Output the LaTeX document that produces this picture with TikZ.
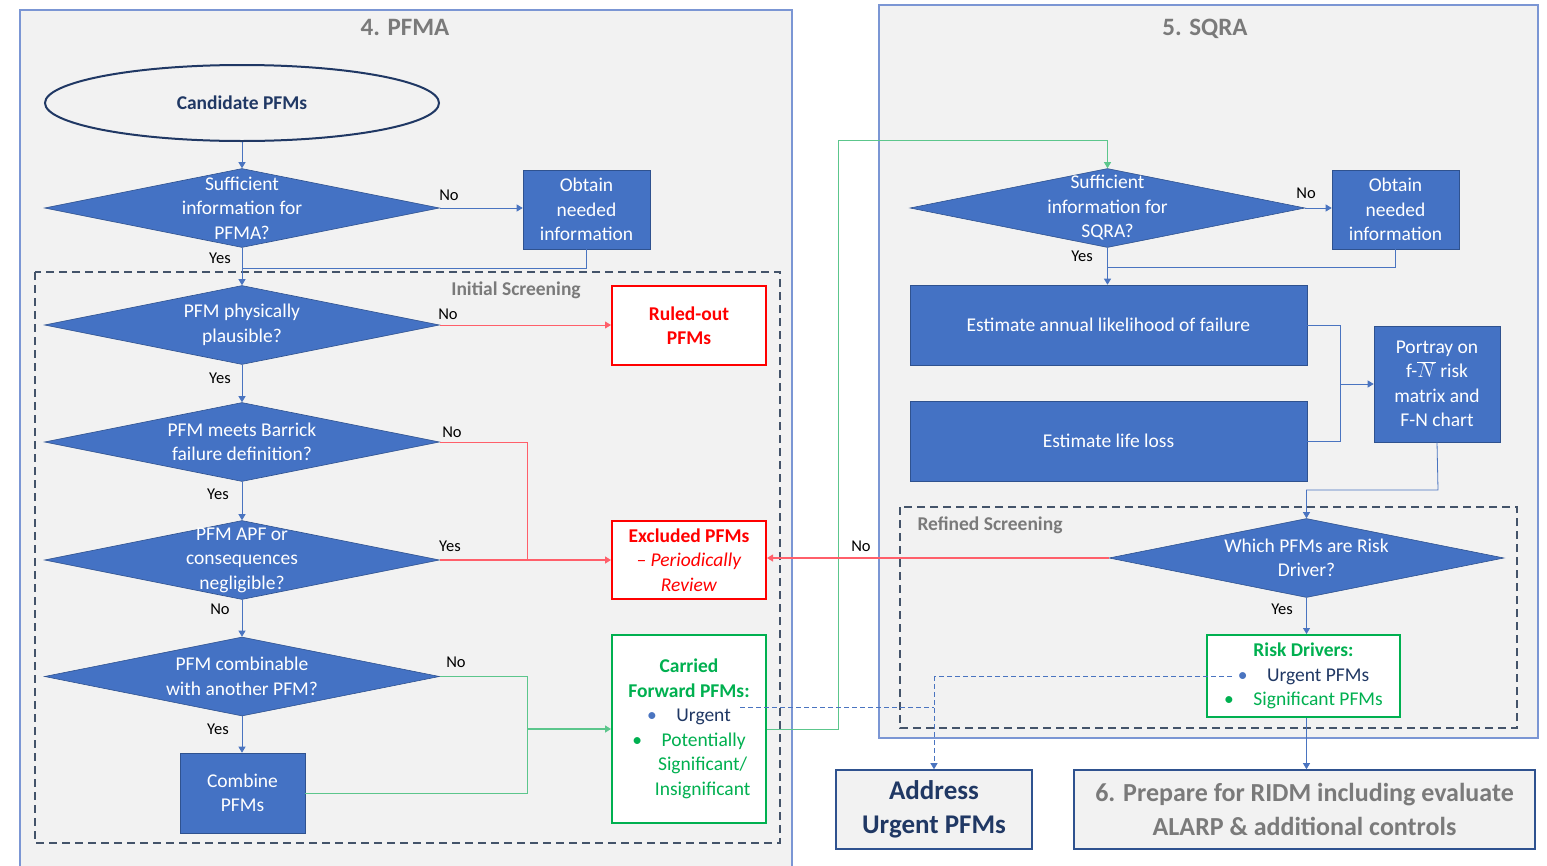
\documentclass[tikz,border=0pt]{standalone}
\usepackage{fontspec}
\setmainfont{Carlito}
\usetikzlibrary{shapes.geometric,arrows.meta}
\definecolor{bfill}{HTML}{4472C4}
\definecolor{bdark}{HTML}{2F528F}
\definecolor{navy}{HTML}{203864}
\definecolor{outerb}{HTML}{7B96D4}
\definecolor{dashb}{HTML}{44546A}
\definecolor{bg}{HTML}{F2F2F2}
\definecolor{gtitle}{HTML}{7A7A7A}
\definecolor{rred}{HTML}{FF0000}
\definecolor{rline}{HTML}{FF5F6A}
\definecolor{ggreen}{HTML}{00B050}
\definecolor{gline}{HTML}{5CC68C}
\definecolor{cline}{HTML}{4A74C0}
\tikzset{
  dia/.style={diamond, draw=bdark, fill=bfill, line width=0.6pt, inner sep=0pt, minimum width=395pt, minimum height=79pt},
  dtext/.style={align=center, text=white, font=\fontsize{19.5}{24.5}\selectfont},
  bbox/.style={rectangle, draw=bdark, fill=bfill, line width=0.6pt, align=center, text=white, inner sep=2pt, font=\fontsize{19.5}{24.5}\selectfont},
  redbox/.style={rectangle, draw=rred, fill=white, line width=2pt, align=center, text=rred, inner sep=2pt, font=\fontsize{19.5}{24.5}\selectfont},
  grnbox/.style={rectangle, draw=ggreen, fill=white, line width=2pt, align=center, text=ggreen, inner sep=2pt, font=\fontsize{19.5}{24.5}\selectfont},
  graybox/.style={rectangle, draw=bdark, fill=bg, line width=1.6pt, align=center, inner sep=2pt, font=\bfseries\fontsize{27}{34}\selectfont},
  outerbox/.style={draw=outerb, fill=bg, line width=1.6pt},
  dashbox/.style={draw=dashb, line width=1.6pt, dash pattern=on 8pt off 5pt},
  titletext/.style={text=gtitle, font=\bfseries\fontsize{25}{28}\selectfont},
  screentext/.style={text=gtitle, font=\bfseries\fontsize{19.5}{22}\selectfont},
  lab/.style={text=black, font=\fontsize{16.5}{18}\selectfont, inner sep=1pt},
  arr/.style={-{Triangle[width=7pt,length=6pt]}},
  conn/.style={draw=cline, line width=0.8pt},
  rconn/.style={draw=rline, line width=0.9pt},
  gconn/.style={draw=gline, line width=0.9pt},
  dconn/.style={draw=cline, line width=0.8pt, dash pattern=on 5pt off 3pt},
}
\begin{document}
\begin{tikzpicture}[x=1pt,y=-1pt]
\useasboundingbox (0,0) rectangle (1547,865);
\fill[white] (0,0) rectangle (1547,865);
% outer containers
\draw[outerbox] (20,10) rectangle (792,880);
\draw[outerbox] (879,5) rectangle (1538,738);
\node[titletext] (t4) at (405,27) {4. PFMA};
\node[titletext] (t5) at (1205,29) {5. SQRA};
% screening boxes
\draw[dashbox] (35,272) rectangle (780,843);
\node[screentext] (is) at (516,290) {Initial Screening};
\draw[dashbox] (900,507) rectangle (1517,728);
\node[screentext] (rs) at (990,525) {Refined Screening};

% ---------- PFMA ----------
\node[ellipse, draw=navy, fill=bg, line width=2pt, minimum width=394pt, minimum height=76pt, text=navy, font=\bfseries\fontsize{19.5}{22}\selectfont] (cand) at (242,103) {Candidate PFMs};
\node[dia] (d1) at (242,208) {};
\node[dtext] at (d1) {Sufficient\\information for\\PFMA?};
\node[bbox, minimum width=127pt, minimum height=79pt] (ob1) at (586.5,209.5) {Obtain\\needed\\information};
\node[dia] (d2) at (242,325) {};
\node[dtext] at (d2) {PFM physically\\plausible?};
\node[redbox, minimum width=154pt, minimum height=79pt, font=\bfseries\fontsize{19.5}{24.5}\selectfont] (ruled) at (689,325.5) {Ruled-out\\PFMs};
\node[dia] (d3) at (242,442) {};
\node[dtext] at (d3) {PFM meets Barrick\\failure definition?};
\node[dia] (d4) at (242,560) {};
\node[dtext] at (d4) {PFM APF or\\consequences\\negligible?};
\node[redbox, minimum width=154pt, minimum height=78pt] (excl) at (689,560) {\textbf{Excluded PFMs}\\\textit{-- Periodically}\\\textit{Review}};
\node[dia] (d5) at (242,676.5) {};
\node[dtext] at (d5) {PFM combinable\\with another PFM?};
\node[bbox, minimum width=125pt, minimum height=80pt] (comb) at (242.5,793) {Combine\\PFMs};
\node[grnbox, minimum width=154pt, minimum height=188pt] (carr) at (689,729) {\textbf{Carried}\\\textbf{Forward PFMs:}\\{\color{cline}\textbullet}\quad{\color{navy}Urgent}\\\textbullet\quad Potentially\\\hspace{1.4em}Significant/\\\hspace{1.4em}Insignificant};

% ---------- SQRA ----------
\node[dia] (s1) at (1107.5,208) {};
\node[dtext] at (s1) {Sufficient\\information for\\SQRA?};
\node[bbox, minimum width=127pt, minimum height=79pt] (ob2) at (1395.5,209.5) {Obtain\\needed\\information};
\node[bbox, minimum width=397pt, minimum height=80pt] (ann) at (1108.5,325) {Estimate annual likelihood of failure};
\node[bbox, minimum width=397pt, minimum height=80pt] (life) at (1108.5,441) {Estimate life loss};
\node[bbox, minimum width=126pt, minimum height=116pt] (port) at (1437,384) {Portray on\\f-$\overline{N}$ risk\\matrix and\\F-N chart};
\node[dia] (wd) at (1306.5,558) {};
\node[dtext] at (wd) {Which PFMs are Risk\\Driver?};
\node[grnbox, minimum width=193pt, minimum height=82pt] (rd) at (1303.5,676) {\textbf{Risk Drivers:}\\{\color{cline}\textbullet}\quad{\color{navy}Urgent PFMs}\\\textbullet\quad Significant PFMs};
\node[graybox, minimum width=196pt, minimum height=79pt, text=navy] (addr) at (934,809.5) {Address\\Urgent PFMs};
\node[graybox, minimum width=461pt, minimum height=79pt, text=gtitle, font=\bfseries\fontsize{26}{34}\selectfont] (prep) at (1304.5,809.5) {6. Prepare for RIDM including evaluate\\ALARP \& additional controls};

% ---------- coordinates ----------
\coordinate (j1) at (242,268);
\coordinate (rj3) at (527,442);
\coordinate (rj) at (527,560);
\coordinate (gj1) at (527,676.5);
\coordinate (gj2) at (527,793);
\coordinate (gj) at (527,729);
\coordinate (gu1) at (838,729);
\coordinate (gu2) at (838,140);
\coordinate (gu3) at (1107.5,140);
\coordinate (sj) at (1107.5,267);
\coordinate (pj1) at (1340,325);
\coordinate (pj2) at (1340,441);
\coordinate (pj) at (1340,384);
\coordinate (wj1) at (1438,490);
\coordinate (wj2) at (1306.5,490);
\coordinate (ub) at (1232,676);
\coordinate (cu) at (740,707);
\coordinate (dv1) at (934,676);
\coordinate (dv2) at (934,707);

% ---------- connectors ----------
\draw[conn,arr] (cand.south) -- (d1.north);
\draw[conn,arr] (d1.east) -- (d1.east -| ob1.west);
\draw[conn] (ob1.south) |- (j1);
\draw[conn,arr] (d1.south) -- (d2.north);
\draw[rconn,arr] (d2.east) -- (d2.east -| ruled.west);
\draw[conn,arr] (d2.south) -- (d3.north);
\draw[rconn] (d3.east) -- (rj3) -- (rj);
\draw[conn,arr] (d3.south) -- (d4.north);
\draw[rconn,line width=1.6pt,arr] (d4.east) -- (excl.west);
\draw[conn,arr] (d4.south) -- (d5.north);
\draw[gconn] (d5.east) -- (gj1) -- (gj2) -- (comb.east);
\draw[conn,arr] (d5.south) -- (d5.south |- comb.north);
\draw[gconn,line width=1.6pt,arr] (gj) -- (carr.west);
\draw[gconn,arr] (carr.east) -- (gu1) -- (gu2) -- (gu3) -- (s1.north);

\draw[conn,arr] (s1.east) -- (s1.east -| ob2.west);
\draw[conn] (ob2.south) |- (sj);
\draw[conn,arr] (s1.south) -- (s1.south |- ann.north);
\draw[conn] (ann.east) -- (pj1) -- (pj2) -- (life.east);
\draw[conn,arr] (pj) -- (port.west);
\draw[conn,arr] (port.south) -- (wj1) -- (wj2) -- (wd.north);
\draw[rconn,line width=1.2pt,arr] (wd.west) -- (wd.west -| excl.east);
\draw[conn,arr] (wd.south) -- (wd.south |- rd.north);
\draw[conn,arr] (wd.south |- rd.south) -- (wd.south |- prep.north);
\draw[dconn] (ub) -- (dv1);
\draw[dconn] (cu) -- (dv2);
\draw[dconn,arr] (dv1) -- (addr.north);

% ---------- labels ----------
\node[lab] at (220,258) {Yes};
\node[lab] at (449,195) {No};
\node[lab] at (448,314) {No};
\node[lab] at (220,378) {Yes};
\node[lab] at (452,432) {No};
\node[lab] at (218,494) {Yes};
\node[lab] at (450,546) {Yes};
\node[lab] at (220,609) {No};
\node[lab] at (456,662) {No};
\node[lab] at (218,729) {Yes};
\node[lab] at (1306,193) {No};
\node[lab] at (1082,256) {Yes};
\node[lab] at (861,546) {No};
\node[lab] at (1282,609) {Yes};
\end{tikzpicture}
\end{document}
